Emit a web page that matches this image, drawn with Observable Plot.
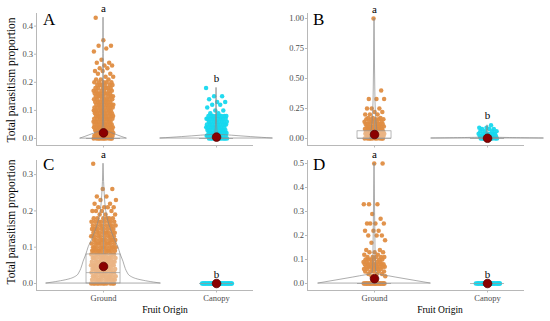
<!DOCTYPE html>
<html>
<head>
<meta charset="utf-8">
<script src="https://cdn.jsdelivr.net/npm/d3@7"></script>
<script src="https://cdn.jsdelivr.net/npm/@observablehq/plot@0.6"></script>
<style>
  body { margin: 0; background: #fff; }
  #chart { position: relative; width: 550px; height: 321px; overflow: hidden; font-family: "Liberation Serif", "Times New Roman", serif; }
  #chart svg { position: absolute; overflow: visible; }
</style>
</head>
<body>
<div id="chart"></div>
<script>
// ---------- categories & labels ----------
const origins = ["Ground", "Canopy"];
const panelLetters = ["A", "B", "C", "D"];
const sigLetters = ["a", "b"];
const yTitle = "Total parasitism proportion";
const xTitle = "Fruit Origin";

// ---------- observed values: [proportion, number of fruits] ----------
const groundA = [[0,11],[0.01,10],[0.02,10],[0.03,9],[0.04,9],[0.05,9],[0.06,9],[0.07,9],[0.08,9],[0.09,8],[0.1,8],[0.11,8],[0.12,8],[0.13,7],[0.14,7],[0.15,7],[0.16,7],[0.17,6],[0.18,6],[0.19,6],[0.2,5],[0.21,3],[0.22,2],[0.23,2],[0.24,2],[0.25,2],[0.26,2],[0.27,2],[0.28,1],[0.31,1],[0.32,1],[0.33,2],[0.35,1],[0.43,1]];
const canopyA = [[0,11],[0.01,10],[0.02,10],[0.03,9],[0.04,9],[0.05,9],[0.06,9],[0.07,9],[0.08,8],[0.09,2],[0.1,2],[0.11,1],[0.12,2],[0.13,2],[0.14,1],[0.15,2],[0.18,1]];
const groundB = [[0,10],[0.02,9],[0.04,9],[0.06,9],[0.08,8],[0.1,8],[0.12,7],[0.14,6],[0.16,5],[0.17,3],[0.2,3],[0.22,2],[0.25,3],[0.33,3],[0.4,1],[1,1]];
const canopyB = [[0,10],[0.02,8],[0.04,7],[0.06,4],[0.08,3],[0.09,2],[0.11,1]];
const groundC = [[0,12],[0.01,11],[0.02,11],[0.03,11],[0.04,11],[0.05,11],[0.06,11],[0.07,11],[0.08,11],[0.09,11],[0.1,11],[0.11,10],[0.12,10],[0.13,9],[0.14,9],[0.15,9],[0.16,8],[0.17,8],[0.18,6],[0.19,3],[0.2,4],[0.21,4],[0.22,2],[0.23,2],[0.24,2],[0.26,2],[0.33,1]];
const canopyC = [[0,34]];
const groundD = [[0,26],[0.03,2],[0.04,3],[0.05,5],[0.06,6],[0.07,8],[0.08,8],[0.09,5],[0.1,6],[0.11,5],[0.12,2],[0.13,3],[0.14,2],[0.17,1],[0.18,1],[0.2,3],[0.22,3],[0.25,4],[0.27,1],[0.29,1],[0.33,3],[0.5,2]];
const canopyD = [[0,30]];

// ---------- violin profiles (proportion, relative density) ----------
const violinGA_y = [0, 0.005, 0.01, 0.02, 0.03, 0.05, 0.1, 0.2, 0.3, 0.43];
const violinGA_d = [1, 0.82, 0.65, 0.33, 0.05, 0.025, 0.015, 0.01, 0.008, 0];
const violinCA_y = [0, 0.005, 0.01, 0.014, 0.02, 0.05, 0.1, 0.18];
const violinCA_d = [1, 0.62, 0.28, 0.04, 0.02, 0.01, 0.005, 0];
const violinGB_y = [0, 0.05, 0.1, 0.2, 0.4, 0.6, 0.8, 1];
const violinGB_d = [1, 0.8, 0.6, 0.35, 0.2, 0.12, 0.08, 0];
const violinCB_y = [0, 0.004, 0.008, 0.02, 0.05, 0.11];
const violinCB_d = [1, 0.4, 0.06, 0.03, 0.015, 0];
const violinGC_y = [0, 0.005, 0.01, 0.02, 0.03, 0.04, 0.06, 0.08, 0.1, 0.12, 0.14, 0.16, 0.18, 0.2, 0.24, 0.28, 0.33];
const violinGC_d = [1, 0.79, 0.63, 0.47, 0.42, 0.39, 0.35, 0.3, 0.26, 0.2, 0.15, 0.105, 0.07, 0.047, 0.023, 0.01, 0];
const violinGD_y = [0, 0.01, 0.02, 0.03, 0.04, 0.05, 0.1, 0.2, 0.3, 0.4, 0.5];
const violinGD_d = [1, 0.75, 0.5, 0.26, 0.05, 0.03, 0.02, 0.015, 0.01, 0.006, 0];

// ---------- box statistics [q1, median, q3, upper whisker] ----------
const boxA = [[0,0,0,0],[0,0,0,0]];
const boxB = [[0,0,0.06,0.15],[0,0,0,0]];
const boxC = [[0,0.03,0.08,0.2],[0,0,0,0]];
const boxD = [[0,0,0,0],[0,0,0,0]];

// ---------- means ----------
const meanA = [0.02, 0.005];
const meanB = [0.033, 0.002];
const meanC = [0.047, 0];
const meanD = [0.02, 0];

// ---------- ticks ----------
const ticksA = [0, 0.1, 0.2, 0.3, 0.4];
const ticksB = [0, 0.25, 0.5, 0.75, 1];
const ticksC = [0, 0.1, 0.2, 0.3];
const ticksD = [0, 0.1, 0.2, 0.3, 0.4, 0.5];

// ---------- styling ----------
const pointColors = ["#DF8D42", "#16D8EE"];
const axisGray = "#b8b8b8";
const textGray = "#4d4d4d";
const FONT = "'Liberation Serif', 'Times New Roman', serif";
const PX = 1 / 113; // x units per pixel
const xDomain = [0.407, 2.327];

function panel(cfg) {
  const pts = [], vio = [], boxes = [], means = [], tops = [];
  cfg.groups.forEach((g, gi) => {
    const pos = gi + 1;
    let k = 0, max = 0;
    for (const [v, n] of g.values) {
      for (let j = 0; j < n; j++) pts.push({pos, v, k: k++, gi, jw: g.jitterPx * PX});
      max = Math.max(max, v);
    }
    if (g.vy) g.vy.forEach((y, i) => vio.push({gi, y, x1: pos - g.vd[i] * g.violinPx * PX, x2: pos + g.vd[i] * g.violinPx * PX}));
    const [q1, med, q3, wt] = g.box;
    boxes.push({pos, q1, med, q3, wt, x1: pos - 17 * PX, x2: pos + 17 * PX});
    means.push({pos, v: g.mean});
    tops.push({pos, v: max, t: sigLetters[gi]});
  });
  const svg = Plot.plot({
    width: cfg.width, height: cfg.height,
    marginLeft: cfg.mL, marginRight: cfg.mR, marginTop: cfg.mT, marginBottom: cfg.mB,
    x: {domain: xDomain},
    y: {domain: cfg.yDomain},
    style: {fontFamily: FONT, background: "transparent", overflow: "visible"},
    marks: [
      Plot.ruleY([cfg.yDomain[0]], {stroke: axisGray, strokeWidth: 1}),
      Plot.ruleX([xDomain[0]], {stroke: axisGray, strokeWidth: 1}),
      Plot.axisY({ticks: cfg.ticks, tickFormat: d3.format(cfg.fmt), tickSize: 2, tickPadding: 1.5, fontSize: 8.5, fill: textGray, stroke: axisGray, label: null}),
      Plot.axisX({ticks: [1, 2], tickFormat: d => cfg.showX ? origins[d - 1] : "", tickSize: 2.5, tickPadding: 2, fontSize: 8.5, fill: textGray, stroke: axisGray, label: null}),
      Plot.dot(pts, {
        x: d => d.pos + d.jw * (2 * ((d.k * 0.6180339887 + 0.3 + 0.37 * d.gi) % 1) - 1),
        y: "v", r: 2.25, fill: d => pointColors[d.gi], fillOpacity: 0.95, stroke: "none"
      }),
      Plot.rect(boxes.filter(b => b.q3 > b.q1), {x1: "x1", x2: "x2", y1: "q1", y2: "q3", fill: "white", fillOpacity: 0.35, stroke: "#9a9a9a", strokeWidth: 0.7}),
      Plot.ruleY(boxes, {y: "med", x1: "x1", x2: "x2", stroke: "#9a9a9a", strokeWidth: 0.7}),
      Plot.ruleX(boxes.filter(b => b.wt > b.q3), {x: "pos", y1: "q3", y2: "wt", stroke: "#9a9a9a", strokeWidth: 0.7}),
      Plot.areaX(vio, {y: "y", x1: "x1", x2: "x2", z: "gi", fill: "none", stroke: "#8a8a8a", strokeWidth: 0.7, curve: "monotone-y"}),
      Plot.dot(means, {x: "pos", y: "v", r: 4.3, fill: "#8B0000", stroke: "#5a0000", strokeWidth: 0.8}),
      Plot.text(tops, {x: "pos", y: "v", text: "t", dy: -6, lineAnchor: "bottom", fontSize: 11, fill: "black"})
    ]
  });
  svg.style.left = cfg.left + "px";
  svg.style.top = cfg.top + "px";
  return svg;
}

const chart = document.getElementById("chart");
chart.appendChild(panel({
  left: 0, top: 0, width: 275, height: 155, mL: 36, mR: 22, mT: 13, mB: 10,
  yDomain: [-7 / 281, 125 / 281], ticks: ticksA, fmt: ".1f", showX: false,
  groups: [
    {values: groundA, jitterPx: 10, vy: violinGA_y, vd: violinGA_d, violinPx: 23, box: boxA[0], mean: meanA[0]},
    {values: canopyA, jitterPx: 10.5, vy: violinCA_y, vd: violinCA_d, violinPx: 56, box: boxA[1], mean: meanA[1]}
  ]
}));
chart.appendChild(panel({
  left: 275, top: 0, width: 275, height: 155, mL: 32, mR: 26, mT: 13, mB: 10,
  yDomain: [-7 / 120, 125 / 120], ticks: ticksB, fmt: ".2f", showX: false,
  groups: [
    {values: groundB, jitterPx: 10, vy: violinGB_y, vd: violinGB_d, violinPx: 4, box: boxB[0], mean: meanB[0]},
    {values: canopyB, jitterPx: 9.5, vy: violinCB_y, vd: violinCB_d, violinPx: 56, box: boxB[1], mean: meanB[1]}
  ]
}));
chart.appendChild(panel({
  left: 0, top: 155, width: 275, height: 166, mL: 36, mR: 22, mT: 5, mB: 31,
  yDomain: [-7 / 363, 123 / 363], ticks: ticksC, fmt: ".1f", showX: true,
  groups: [
    {values: groundC, jitterPx: 12.5, vy: violinGC_y, vd: violinGC_d, violinPx: 57, box: boxC[0], mean: meanC[0]},
    {values: canopyC, jitterPx: 15.5, box: boxC[1], mean: meanC[1]}
  ]
}));
chart.appendChild(panel({
  left: 275, top: 155, width: 275, height: 166, mL: 32, mR: 26, mT: 5, mB: 31,
  yDomain: [-7 / 240, 123 / 240], ticks: ticksD, fmt: ".1f", showX: true,
  groups: [
    {values: groundD, jitterPx: 11, vy: violinGD_y, vd: violinGD_d, violinPx: 56, box: boxD[0], mean: meanD[0]},
    {values: canopyD, jitterPx: 12.5, box: boxD[1], mean: meanD[1]}
  ]
}));

// ---------- annotation texts ----------
const over = d3.select(chart).append("svg")
  .attr("width", 550).attr("height", 321)
  .style("left", "0px").style("top", "0px")
  .style("font-family", FONT);
const letterPos = [[43, 24.5], [313, 24.5], [43, 170], [313, 170]];
panelLetters.forEach((L, i) => over.append("text").attr("x", letterPos[i][0]).attr("y", letterPos[i][1]).attr("font-size", 17).text(L));
[80, 222].forEach(cy => over.append("text")
  .attr("transform", `translate(14.8,${cy}) rotate(-90)`)
  .attr("text-anchor", "middle").attr("font-size", 11.5).attr("fill", "black").text(yTitle));
[165, 440].forEach(cx => over.append("text")
  .attr("x", cx).attr("y", 313).attr("text-anchor", "middle").attr("font-size", 9.5).attr("fill", "black").text(xTitle));
</script>
</body>
</html>
